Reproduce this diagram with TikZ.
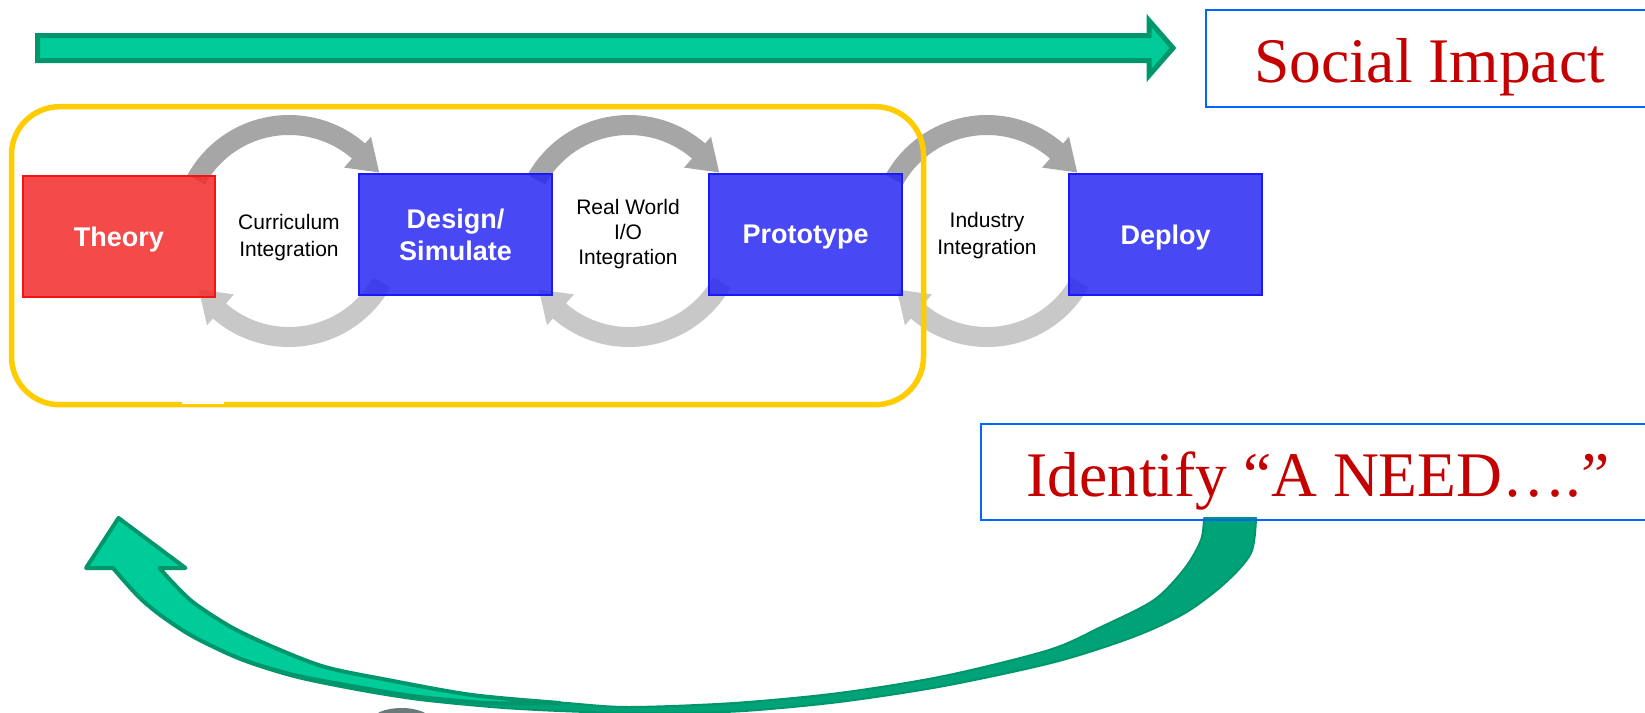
\documentclass[tikz,border=0pt]{standalone}
\usepackage{fontspec}
\setmainfont{Liberation Serif}
\newfontfamily\sansf{Liberation Sans}
\definecolor{tealL}{RGB}{0,204,153}
\definecolor{tealD}{RGB}{0,150,108}
\definecolor{tealB}{RGB}{0,163,120}
\definecolor{ringD}{RGB}{166,166,166}
\definecolor{ringL}{RGB}{200,200,200}
\definecolor{boxRed}{RGB}{243,43,43}
\definecolor{boxBlue}{RGB}{40,40,243}
\definecolor{lineRed}{RGB}{245,20,20}
\definecolor{lineBlue}{RGB}{25,25,250}
\definecolor{frameBlue}{RGB}{0,102,255}
\definecolor{textRed}{RGB}{196,0,0}
\definecolor{gold}{RGB}{255,204,0}
\definecolor{blobGray}{RGB}{105,122,122}
\begin{document}
\begin{tikzpicture}[x=1pt,y=-1pt,
  stage/.style={draw=lineBlue, line width=1.5pt, fill=boxBlue, fill opacity=0.85,
    text opacity=1, text=white, minimum width=193pt, minimum height=121pt,
    inner sep=0pt, align=center, text depth=0pt,
    font=\sansf\bfseries\fontsize{27}{32}\selectfont},
  startstage/.style={stage, draw=lineRed, fill=boxRed, minimum width=192pt},
  ringtext/.style={align=center, inner sep=0pt, text depth=0pt,
    font=\sansf\fontsize{21}{27}\selectfont},
  frame/.style={draw=frameBlue, line width=2pt, inner sep=0pt},
  headline/.style={text=textRed, inner sep=0pt, font=\fontsize{63.5}{70}\selectfont},
  blockarrow/.style={fill=tealL, draw=tealD, line width=5pt, line join=miter},
]
\useasboundingbox (0,0) rectangle (1645,712);
\fill[white] (0,0) rectangle (1645,712);

% centres of the three feedback cycles
\coordinate (hub1) at (289,231);
\coordinate (hub2) at (629,231);
\coordinate (hub3) at (987,231);

% circular grey arrows: forward arc on top, return arc below
\foreach \h in {hub1,hub2,hub3}{
  \begin{scope}[shift={(\h)}]
    \fill[ringD] (-151:116) arc[start angle=-151,end angle=-49,radius=116]
      -- (-49:125) -- (-33:107.5) -- (-49:84) -- (-49:96)
      arc[start angle=-49,end angle=-151,radius=96] -- cycle;
    \fill[ringL] (29:116) arc[start angle=29,end angle=131,radius=116]
      -- (131:125) -- (147:107.5) -- (131:84) -- (131:96)
      arc[start angle=131,end angle=29,radius=96] -- cycle;
  \end{scope}
}

% stages
\node[startstage] (theory) at (119,236.5) {Theory};
\node[stage] (design) at (455.5,234.5) {Design/\\Simulate};
\node[stage] (proto) at (805.5,234.5) {Prototype};
\node[stage] (deploy) at (1165.5,234.5) {Deploy};

% transitions
\node[ringtext] (curr) at (289,235) {Curriculum\\Integration};
\node[ringtext, font=\sansf\fontsize{21}{25}\selectfont] (realio) at (628,232) {Real World\\I/O\\Integration};
\node[ringtext] (indus) at (987,233) {Industry\\Integration};

% academic scope frame
\draw[gold, line width=5.5pt, rounded corners=48pt] (11.5,106.7) rectangle (923.5,404.7);
\fill[white] (182,401.6) rectangle (224,404.3);

% straight block arrow towards the impact box
\filldraw[blockarrow] (37.5,35.5) -- (1149,35.5) -- (1149,20.5) -- (1173,48)
  -- (1149,75.5) -- (1149,60.5) -- (37.5,60.5) -- cycle;

\node[frame, minimum width=447pt, minimum height=97pt] (impactbox) at (1429.5,58.5) {};
\node[headline, anchor=base] (impact) at (1429.5,82) {Social Impact};

% curved return arrow: back face (whole band)
\filldraw[fill=tealB, draw=tealD, line width=2pt, line join=round]
  plot[smooth] coordinates {(113,568) (126,583) (142,600) (163,617) (194,637)
     (241,660) (294,677) (357,690) (420,700) (504,708) (587,712) (671,713)
     (744,711) (839,702) (944,686) (1055,662) (1133,637) (1185,613)
     (1225,583) (1251,553) (1256,518)}
  -- (1204,518)
  -- plot[smooth] coordinates {(1204,518) (1201,540) (1185,568) (1154,600)
     (1101,627) (1049,650) (944,676) (839,693) (734,703) (629,707) (567,703)
     (472,695) (388,680) (325,667) (273,647) (231,627) (194,603) (173,583)
     (159.5,568)}
  -- cycle;
% curved return arrow: front face with head
\filldraw[fill=tealL, draw=tealD, line width=4pt, line join=round]
  (118.5,518) -- (185.5,568) -- (159.5,568)
  -- plot[smooth] coordinates {(159.5,568) (173,583) (194,603) (231,627)
     (273,647) (325,667) (388,680) (472,695) (560,703)}
  -- plot[smooth] coordinates {(560,703) (490,703) (420,697) (357,687)
     (294,675) (241,659) (194,637) (163,617) (142,600) (126,583) (113,568)}
  -- (86,568) -- cycle;

\node[frame, minimum width=679pt, minimum height=96pt] (needbox) at (1320.5,472) {};
\node[headline, anchor=base] (need) at (1318,496) {Identify “A NEED….”};

\begin{scope}
  \clip (0,0) rectangle (1645,712);
  \fill[blobGray] (401.5,721) ellipse[x radius=30, y radius=13];
\end{scope}
\end{tikzpicture}
\end{document}
